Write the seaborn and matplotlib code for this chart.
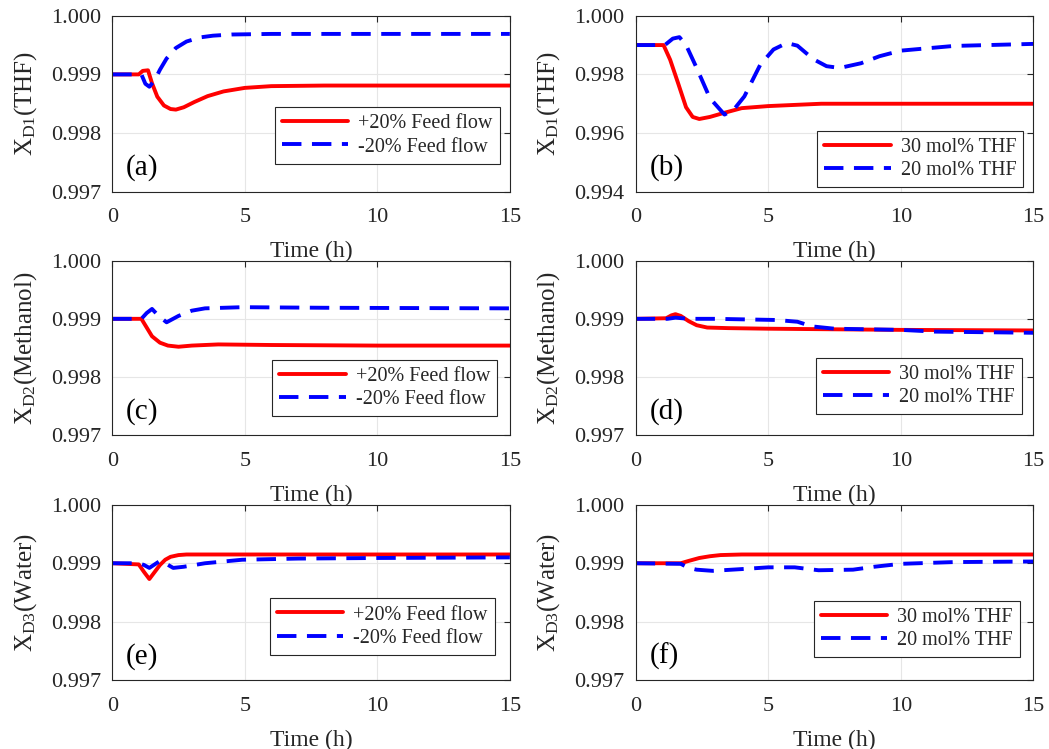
import pandas as pd
import seaborn as sns
import matplotlib.pyplot as plt

# ---- dados ----
# (a) X_D1 - vazão de alimentação
t_a_pos = [0, 1.0, 1.15, 1.35, 1.5, 1.7, 1.95, 2.2, 2.4, 2.7, 3.1, 3.6, 4.2, 5.0, 6.0, 8.0, 10.0, 15.0]
x_a_pos = [0.99900, 0.99900, 0.99906, 0.99907, 0.99885, 0.99862, 0.99847, 0.99841, 0.99840, 0.99844, 0.99853, 0.99863, 0.99871, 0.99877, 0.99880, 0.99881, 0.99881, 0.99881]
t_a_neg = [0, 1.1, 1.25, 1.4, 1.6, 1.8, 2.05, 2.4, 2.8, 3.3, 3.8, 4.5, 6.0, 15.0]
x_a_neg = [0.99900, 0.99900, 0.99884, 0.99879, 0.99890, 0.99908, 0.99927, 0.99945, 0.99956, 0.99963, 0.99966, 0.99968, 0.99969, 0.99969]

# (b) X_D1 - composição da alimentação
t_b_30 = [0, 1.05, 1.3, 1.6, 1.9, 2.15, 2.4, 2.8, 3.3, 4.0, 5.0, 7.0, 15.0]
x_b_30 = [0.99900, 0.99900, 0.99850, 0.99770, 0.99688, 0.99655, 0.99648, 0.99655, 0.99668, 0.99685, 0.99692, 0.99700, 0.99700]
t_b_20 = [0, 1.1, 1.4, 1.65, 1.9, 2.3, 2.8, 3.35, 3.7, 4.1, 4.7, 5.2, 5.7, 6.1, 6.7, 7.2, 7.7, 8.5, 9.2, 10.0, 12.0, 15.0]
x_b_20 = [0.99900, 0.99900, 0.99922, 0.99927, 0.99900, 0.99822, 0.99719, 0.99663, 0.99680, 0.99725, 0.99833, 0.99885, 0.99907, 0.99898, 0.99852, 0.99828, 0.99822, 0.99838, 0.99862, 0.99881, 0.99897, 0.99904]

# (c) X_D2 - vazão de alimentação
t_c_pos = [0, 1.1, 1.3, 1.5, 1.8, 2.1, 2.5, 3.0, 4.0, 6.0, 10.0, 15.0]
x_c_pos = [0.99900, 0.99900, 0.99885, 0.99870, 0.99859, 0.99854, 0.99852, 0.99854, 0.99856, 0.99855, 0.99854, 0.99854]
t_c_neg = [0, 1.1, 1.3, 1.5, 1.75, 2.05, 2.5, 3.0, 3.5, 4.9, 8.0, 15.0]
x_c_neg = [0.99900, 0.99900, 0.99910, 0.99917, 0.99905, 0.99894, 0.99905, 0.99914, 0.99918, 0.99920, 0.99919, 0.99918]

# (d) X_D2 - composição da alimentação
t_d_30 = [0, 1.15, 1.35, 1.5, 1.7, 2.0, 2.3, 2.7, 3.5, 5.0, 10.0, 15.0]
x_d_30 = [0.99900, 0.99901, 0.99906, 0.99908, 0.99905, 0.99896, 0.99889, 0.99885, 0.99884, 0.99883, 0.99881, 0.99880]
t_d_20 = [0, 1.2, 1.5, 2.0, 3.0, 5.3, 6.1, 6.65, 7.5, 10.0, 11.3, 15.0]
x_d_20 = [0.99900, 0.99900, 0.99902, 0.99900, 0.99900, 0.99898, 0.99895, 0.99887, 0.99883, 0.99881, 0.99878, 0.99876]

# (e) X_D3 - vazão de alimentação
t_e_pos = [0, 1.0, 1.2, 1.4, 1.6, 1.8, 2.0, 2.2, 2.5, 2.8, 3.5, 15.0]
x_e_pos = [0.99900, 0.99898, 0.99885, 0.99873, 0.99885, 0.99897, 0.99906, 0.99911, 0.99914, 0.99915, 0.99915, 0.99915]
t_e_neg = [0, 1.0, 1.2, 1.4, 1.6, 1.8, 2.0, 2.3, 2.7, 3.5, 4.9, 7.0, 10.0, 15.0]
x_e_neg = [0.99900, 0.99900, 0.99897, 0.99892, 0.99898, 0.99904, 0.99900, 0.99892, 0.99894, 0.99900, 0.99906, 0.99908, 0.99909, 0.99910]

# (f) X_D3 - composição da alimentação
t_f_30 = [0, 1.7, 2.0, 2.4, 2.8, 3.2, 4.0, 5.0, 15.0]
x_f_30 = [0.99900, 0.99900, 0.99904, 0.99909, 0.99912, 0.99914, 0.99915, 0.99915, 0.99915]
t_f_20 = [0, 1.7, 2.0, 2.3, 2.9, 4.0, 5.0, 6.0, 6.9, 8.2, 9.0, 10.0, 12.0, 15.0]
x_f_20 = [0.99900, 0.99899, 0.99892, 0.99889, 0.99887, 0.99890, 0.99893, 0.99893, 0.99888, 0.99889, 0.99894, 0.99899, 0.99902, 0.99903]

rotulos_vazao = ['+20% Feed flow', '-20% Feed flow']
rotulos_comp = ['30 mol% THF', '20 mol% THF']
ylabels = [r'X$_{\rm D1}$(THF)', r'X$_{\rm D1}$(THF)',
           r'X$_{\rm D2}$(Methanol)', r'X$_{\rm D2}$(Methanol)',
           r'X$_{\rm D3}$(Water)', r'X$_{\rm D3}$(Water)']
paineis = ['(a)', '(b)', '(c)', '(d)', '(e)', '(f)']

series = [
    (t_a_pos, x_a_pos, t_a_neg, x_a_neg, rotulos_vazao),
    (t_b_30, x_b_30, t_b_20, x_b_20, rotulos_comp),
    (t_c_pos, x_c_pos, t_c_neg, x_c_neg, rotulos_vazao),
    (t_d_30, x_d_30, t_d_20, x_d_20, rotulos_comp),
    (t_e_pos, x_e_pos, t_e_neg, x_e_neg, rotulos_vazao),
    (t_f_30, x_f_30, t_f_20, x_f_20, rotulos_comp),
]

sns.set_theme(style="white")
plt.rcParams['font.family'] = ['Liberation Serif', 'DejaVu Serif']
plt.rcParams['mathtext.fontset'] = 'custom'
plt.rcParams['mathtext.rm'] = 'Liberation Serif'
plt.rcParams['mathtext.it'] = 'Liberation Serif:italic'

fig = plt.figure(figsize=(10.49, 7.49), dpi=100)

# posições dos eixos (fração da figura)
colunas = [(0.107, 0.379), (0.606, 0.379)]
linhas = [(0.744, 0.235), (0.419, 0.233), (0.092, 0.234)]
legenda_pos = [(0.975, 0.16), (0.975, 0.025), (0.968, 0.11),
               (0.972, 0.12), (0.962, 0.145), (0.967, 0.132)]

cinza = '#262626'
for i, (t1, x1, t2, x2, rot) in enumerate(series):
    lin, col = divmod(i, 2)
    ax = fig.add_axes([colunas[col][0], linhas[lin][0], colunas[col][1], linhas[lin][1]])
    df1 = pd.DataFrame({'t': t1, 'x': x1})
    df2 = pd.DataFrame({'t': t2, 'x': x2})
    sns.lineplot(data=df1, x='t', y='x', ax=ax, color='#ff0000', lw=2.8, label=rot[0])
    sns.lineplot(data=df2, x='t', y='x', ax=ax, color='#0000ff', lw=2.8,
                 dashes=False, label=rot[1])
    ax.lines[1].set_dashes([5, 2.7])

    ax.set_xlim(0, 15)
    if i == 1:
        ax.set_ylim(0.994, 1.000)
        ax.set_yticks([0.994, 0.996, 0.998, 1.000])
    else:
        ax.set_ylim(0.997, 1.000)
        ax.set_yticks([0.997, 0.998, 0.999, 1.000])
    ax.set_xticks([0, 5, 10, 15])
    ax.yaxis.set_major_formatter(plt.FormatStrFormatter('%.3f'))
    ax.grid(True, color='#e6e6e6', lw=0.8)
    ax.tick_params(direction='in', length=4, width=0.8, colors=cinza,
                   labelsize=16, top=True, right=True)
    ax.tick_params(axis='x', pad=12)
    ax.tick_params(axis='y', pad=8)
    for s in ax.spines.values():
        s.set_color('#262626')
        s.set_linewidth(0.8)
    ax.set_xlabel('Time (h)', fontsize=17, color=cinza, labelpad=10)
    ax.set_ylabel(ylabels[i], fontsize=18, color=cinza, labelpad=9)
    ax.text(0.035, 0.06, paineis[i], transform=ax.transAxes, fontsize=21,
            color='black', ha='left', va='bottom')
    leg = ax.legend(loc='lower right', bbox_to_anchor=legenda_pos[i],
                    borderaxespad=0, fontsize=14.5, handlelength=3.3,
                    fancybox=False, framealpha=1, edgecolor='#262626',
                    borderpad=0.35, labelspacing=0.2, handletextpad=0.5)
    leg.get_frame().set_linewidth(0.8)

plt.savefig('out.png', dpi=100)
